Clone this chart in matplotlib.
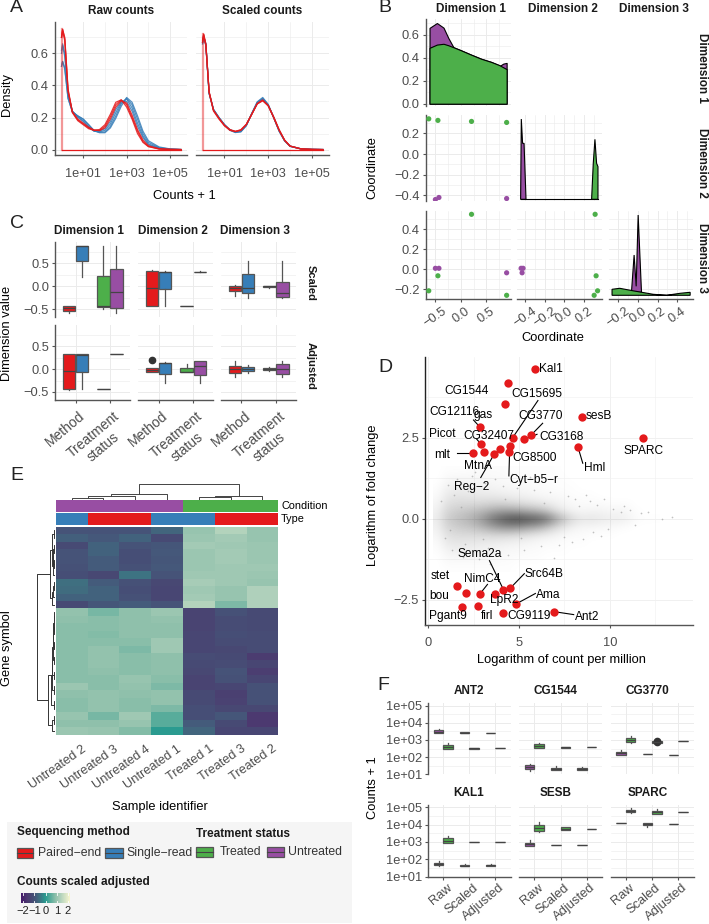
import numpy as np
import matplotlib
matplotlib.use('Agg')
import matplotlib.pyplot as plt
from matplotlib.colors import LinearSegmentedColormap
from matplotlib.patches import Rectangle
from matplotlib.transforms import ScaledTranslation

plt.rcParams['font.family'] = ['Liberation Sans', 'DejaVu Sans']
plt.rcParams['axes.unicode_minus'] = True

W, H = 709, 924
RED, BLUE, GREEN, PURPLE = '#E41A1C', '#377EB8', '#4DAF4A', '#984EA3'
GRID = '#ebebeb'
TXT = '#4d4d4d'
AXC = '#555555'

# panel A, density of log10(counts + 1)
a_x = [0, .05, .15, .3, .5, .75, 1, 1.25, 1.5, 1.75, 2, 2.25, 2.5, 2.75, 3, 3.25, 3.5, 3.75, 4, 4.5, 5, 5.5]
raw_blue = [
    [.62, .66, .60, .36, .24, .20, .175, .14, .115, .115, .13, .175, .25, .30, .30, .24, .145, .075, .03, .007, .001, 0],
    [.60, .65, .58, .34, .24, .205, .18, .145, .115, .11, .12, .16, .23, .295, .315, .26, .165, .085, .035, .009, .002, 0],
    [.52, .55, .50, .32, .235, .21, .19, .155, .118, .108, .11, .145, .21, .285, .32, .28, .19, .10, .045, .012, .003, 0],
    [.52, .55, .51, .32, .235, .21, .19, .155, .118, .105, .105, .135, .195, .27, .325, .295, .21, .115, .055, .016, .004, 0],
]
raw_red = [
    [.70, .75, .70, .38, .23, .18, .155, .13, .12, .125, .155, .22, .295, .31, .265, .19, .10, .045, .018, .003, .0005, 0],
    [.70, .75, .69, .37, .235, .185, .16, .135, .12, .12, .145, .205, .28, .31, .28, .20, .115, .05, .02, .004, .001, 0],
    [.70, .74, .68, .36, .235, .19, .165, .14, .122, .118, .135, .19, .265, .305, .29, .215, .125, .06, .024, .005, .001, 0],
]
scaled_blue = [
    [.66, .70, .65, .35, .25, .20, .155, .122, .108, .112, .15, .225, .295, .32, .28, .20, .115, .055, .02, .004, .001, 0],
    [.67, .71, .66, .35, .25, .20, .156, .124, .11, .115, .152, .222, .29, .315, .278, .20, .118, .056, .021, .004, .001, 0],
    [.66, .70, .66, .355, .25, .198, .154, .12, .106, .11, .148, .226, .298, .325, .282, .20, .114, .054, .02, .004, .001, 0],
    [.67, .71, .65, .35, .248, .198, .155, .123, .11, .116, .154, .224, .292, .316, .276, .202, .12, .058, .022, .005, .001, 0],
]
scaled_red = [
    [.68, .72, .66, .36, .245, .195, .15, .122, .112, .12, .155, .22, .285, .305, .275, .205, .125, .06, .022, .004, .001, 0],
    [.67, .71, .65, .36, .245, .195, .152, .125, .114, .122, .156, .22, .285, .305, .272, .20, .12, .058, .022, .004, .001, 0],
    [.67, .72, .655, .355, .24, .19, .148, .12, .113, .124, .158, .222, .288, .31, .275, .20, .12, .056, .021, .004, .001, 0],
]

# panel B, sample coordinates
dim1 = [-.63, -.45, .21, .90, -.50, -.43, .90]
dim2 = [.34, .325, .315, .305, -.44, -.42, -.43]
dim3 = [-.215, -.065, .55, -.26, .01, .01, -.035]
dim_colors = [GREEN, GREEN, GREEN, GREEN, PURPLE, PURPLE, PURPLE]
d1_px = [-.615, -.47, -.34, -.245, -.145, 0, .2, .4, .6, .77, .835, .90]
d1_py = [.658, .70, .66, .57, .49, .464, .426, .39, .362, .33, .348, .354]
d1_gx = [-.615, -.47, -.34, -.245, -.145, 0, .2, .4, .6, .75, .90]
d1_gy = [.485, .513, .52, .507, .49, .464, .426, .39, .362, .336, .30]
d2_px = [-.445, -.438, -.425, -.41, -.39]
d2_py = [-.438, .338, .103, .103, -.438]
d2_gx = [.279, .296, .313, .33, .344, .344]
d2_gy = [-.438, -.09, .142, -.09, -.122, -.438]
d3_px = [-.065, -.038, -.017, .003, .037]
d3_py = [-.23, .143, -.17, .543, -.23]
d3_gx = [-.262, -.262, -.184, -.048, .156, .292, .429, .531, .531]
d3_gy = [-.26, -.20, -.19, -.215, -.25, -.26, -.24, -.23, -.26]

# panel C, (whisker low, q1, median, q3, whisker high, outliers)
c_cats = ['Method', 'Treatment\nstatus']
c_scaled_1 = [(-.59, -.53, -.48, -.43, -.43), (.21, .54, .88, .88, .88), (-.50, -.456, -.43, .225, .88), (-.59, -.478, -.115, .377, .88)]
c_scaled_2 = [(-.43, -.43, -.043, .333, .35), (-.43, -.065, .31, .32, .33), (-.43, -.43, -.43, -.43, -.43), (.32, .32, .32, .32, .34)]
c_scaled_3 = [(-.21, -.10, -.04, .015, .02), (-.26, -.15, -.03, .26, .55), (-.03, -.01, 0, .01, .01), (-.26, -.225, -.14, .09, .55)]
c_adj_1 = [(-.46, -.44, -.05, .33, .33), (-.44, -.065, .31, .32, .32), (-.44, -.44, -.44, -.44, -.44), (.33, .33, .33, .33, .33)]
c_adj_2 = [(-.06, -.06, -.03, .015, .015, [.19]), (-.31, -.10, .12, .14, .155), (-.065, -.065, -.06, .03, .11), (-.31, -.12, .07, .17, .18)]
c_adj_3 = [(-.18, -.095, -.01, .065, .18), (-.09, -.05, 0, .05, .08), (-.05, -.03, 0, .02, .04), (-.18, -.115, -.01, .10, .17)]

# panel D, highlighted genes
d_genes = ['Kal1', 'CG1544', 'CG15695', 'CG12116', 'gas', 'CG3770', 'sesB', 'Picot', 'CG32407', 'CG3168', 'SPARC', 'mlt',
           'CG8500', 'MtnA', 'Hml', 'Cyt−b5−r', 'Reg−2', 'Sema2a', 'Src64B', 'stet', 'NimC4', 'Ama', 'bou', 'LpR2',
           'Pgant9', 'firl', 'CG9119', 'Ant2']
d_label_x = [6.78, 2.12, 6.0, 1.44, 3.04, 6.17, 9.41, .79, 3.33, 7.33, 11.84, .77, 5.84, 2.76, 9.15, 5.82, 2.41, 2.82,
             6.39, .64, 3.0, 6.63, .61, 4.16, 1.07, 3.26, 5.54, 8.75]
d_label_y = [4.61, 3.94, 3.83, 3.29, 3.19, 3.17, 3.17, 2.62, 2.55, 2.52, 2.09, 1.96, 1.86, 1.61, 1.56, 1.18, .98, -1.09,
             -1.71, -1.75, -1.84, -2.36, -2.39, -2.51, -3.0, -3.0, -2.99, -3.01]
d_cpm = [5.89, 4.40, 4.20, 8.45, 2.85, 11.82, 4.64, 5.67, 5.30, 2.91, 4.49, 3.94, 3.09, 4.42, 3.63, 2.45, 8.25,
         1.58, 2.10, 2.85, 3.65, 4.14, 4.51, 2.73, 1.88, 4.81, 4.13, 6.94]
d_fc = [4.61, 4.18, 3.53, 3.12, 2.82, 2.48, 2.49, 2.58, 2.45, 2.29, 2.25, 2.16, 2.06, 2.07, 1.99, 2.01, 2.20,
        -2.08, -2.28, -2.31, -2.32, -2.18, -2.14, -2.67, -2.72, -2.63, -2.90, -2.86]
# repel segments: label end x, y, then gene end x, y
seg_x0 = [6.04, 2.49, 6.30, 5.99, 2.67, 1.60, 2.89, 8.51, 4.44, 3.37, 5.29, 3.26, 5.90, 8.01]
seg_y0 = [3.64, 3.04, 2.94, 2.60, 2.45, 2.01, 1.27, 1.71, 1.32, -1.29, -1.69, -2.02, -2.30, -2.95]
seg_x1 = [4.64, 2.85, 5.67, 5.30, 2.91, 2.45, 3.63, 8.25, 4.49, 4.14, 4.51, 2.85, 4.81, 6.94]
seg_y1 = [2.49, 2.82, 2.58, 2.45, 2.29, 2.01, 1.99, 2.20, 2.25, -2.18, -2.14, -2.31, -2.63, -2.86]
# background genes as darkness per cell, the cloud is too dense to read one by one
cloud_y_top, cloud_y_bottom = 1.625, -1.625
cloud_x_left, cloud_x_right = .25, 12.75
cloud_dark = [
    [0, .01, .01, .01, .02, .02, .02, .02, .01, .01, .01, .01, .01, .01, 0, 0, 0, 0, 0, 0, 0, 0, 0, 0, 0],
    [0, .03, .04, .04, .04, .04, .03, .03, .02, .02, .02, .01, .01, .01, .01, 0, 0, 0, 0, 0, 0, 0, 0, 0, 0],
    [.01, .06, .07, .07, .06, .06, .05, .04, .04, .03, .03, .02, .02, .01, .01, .01, 0, 0, 0, 0, 0, 0, 0, 0, 0],
    [.02, .09, .11, .11, .10, .09, .09, .08, .07, .06, .05, .04, .03, .03, .02, .01, .01, .01, 0, 0, 0, 0, 0, 0, 0],
    [.04, .13, .16, .16, .16, .17, .18, .18, .16, .14, .12, .10, .08, .06, .04, .03, .02, .02, .02, .01, .01, .01, 0, 0, 0],
    [.06, .18, .22, .25, .28, .32, .38, .42, .42, .40, .36, .32, .25, .15, .08, .05, .04, .05, .05, .04, .05, .03, .01, 0, 0],
    [.08, .22, .28, .32, .38, .48, .62, .72, .80, .82, .78, .74, .65, .45, .28, .16, .11, .12, .10, .08, .08, .06, .02, .01, .01],
    [.06, .18, .22, .25, .28, .34, .42, .48, .50, .48, .42, .38, .28, .18, .10, .06, .04, .04, .03, .03, .02, .01, 0, 0, 0],
    [.04, .13, .16, .16, .16, .16, .17, .17, .16, .14, .12, .09, .07, .05, .03, .02, .02, .01, .01, .01, 0, 0, 0, 0, 0],
    [.02, .09, .11, .10, .10, .09, .08, .07, .06, .05, .04, .03, .02, .02, .01, .01, .01, 0, 0, 0, 0, 0, 0, 0, 0],
    [.01, .05, .07, .07, .06, .05, .05, .04, .03, .03, .02, .02, .01, .01, .01, 0, 0, 0, 0, 0, 0, 0, 0, 0, 0],
    [0, .03, .03, .03, .03, .03, .03, .02, .02, .01, .01, .01, 0, 0, 0, 0, 0, 0, 0, 0, 0, 0, 0, 0, 0],
    [0, .01, .01, .01, .01, .01, .01, .01, .01, 0, 0, 0, 0, 0, 0, 0, 0, 0, 0, 0, 0, 0, 0, 0, 0],
]
stray_x = [.7, 1.1, 1.3, 1.6, 1.9, 2.2, 2.4, 2.8, 3.1, 3.3, 3.7, 4.1, 4.4, 4.9, 5.3, 5.8, 6.2, 6.7, 7.2, 7.7, 8.1, 8.5,
           8.9, 9.3, 9.7, 10.2, 10.6, 11.1, 11.4, 12.1, 12.9, 13.4, .9, 1.4, 2.0, 2.6, 3.4, 4.6, 5.6, 6.9, 7.5, 8.3,
           9.1, 9.9, 10.8, 1.2, 1.8, 3.0, 4.2, 5.1, 6.4, 7.9, 8.7, 9.5, 11.7]
stray_y = [.55, 1.05, -.95, 1.22, -1.18, .85, 1.32, -1.25, 1.1, -.9, 1.22, 1.0, -1.1, .95, -.95, .88, -.85, .82, -.8,
           .7, .62, -.62, .55, .42, .62, .3, .22, .28, -.2, .2, 0, .05, -.6, .72, -.78, 1.45, -1.4, 1.38, 1.28, -1.2,
           -.55, .38, -.4, -.3, .4, -.35, .35, -.62, .6, -.58, .5, -.72, .72, -.52, .18]

# panel E, heatmap rows from top to bottom
samples = ['Untreated 2', 'Untreated 3', 'Untreated 4', 'Untreated 1', 'Treated 1', 'Treated 3', 'Treated 2']
condition = ['Untreated', 'Untreated', 'Untreated', 'Untreated', 'Treated', 'Treated', 'Treated']
seq_type = ['Single', 'Paired', 'Paired', 'Single', 'Single', 'Paired', 'Paired']
heat_values = [
    [-1.0, -1.0, -1.0, -.7, 1.0, 1.35, 1.0],
    [-.8, -.9, -.75, -1.2, 1.05, 1.15, 1.0],
    [-1.2, -.75, -1.0, -.95, 1.15, 1.1, 1.05],
    [-1.0, -.75, -1.1, -.9, 1.05, 1.15, 1.05],
    [-1.0, -.85, -1.1, -.95, 1.05, 1.15, 1.05],
    [-1.05, -.85, -1.05, -.9, 1.05, 1.1, 1.1],
    [-1.1, -1.25, -.5, -1.0, 1.1, 1.1, 1.05],
    [-.55, -.85, -1.05, -1.25, 1.2, 1.1, 1.0],
    [-.6, -.75, -1.1, -1.3, 1.1, 1.0, 1.3],
    [-.75, -.75, -1.05, -1.3, 1.15, 1.0, 1.3],
    [-1.2, -.95, -.85, -1.0, 1.35, .75, 1.3],
    [.95, .7, .9, 1.05, -1.35, -1.05, -1.2],
    [.9, .85, .9, .95, -1.35, -1.15, -1.2],
    [.85, .85, .9, .9, -1.35, -1.15, -1.2],
    [.85, .8, .9, .9, -1.3, -1.1, -1.15],
    [.85, .85, .85, 1.1, -1.3, -1.15, -1.15],
    [.85, .95, .75, 1.1, -1.3, -1.25, -1.15],
    [.85, .95, .85, .9, -1.15, -1.2, -1.55],
    [.85, .95, .85, .9, -1.2, -1.15, -1.3],
    [.85, .9, .85, .9, -1.25, -1.0, -1.5],
    [.85, .85, 1.0, .85, -1.35, -1.05, -1.3],
    [1.05, .85, .95, .75, -1.35, -1.3, -1.05],
    [.9, .95, .9, .95, -1.2, -1.45, -1.05],
    [.85, .95, .85, .95, -1.2, -1.4, -1.05],
    [.85, .95, .85, .75, -1.1, -1.25, -1.25],
    [1.0, .7, 1.1, .45, -1.1, -.95, -1.6],
    [.9, .9, 1.0, .45, -.85, -1.2, -1.6],
    [1.05, 1.0, .8, 0, -.7, -1.3, -1.3],
]
# dendrograms: (pos a, pos b, height a, height b, join height)
col_tree = [(.5, 1.5, 0, 0, 5), (1, 2.5, 5, 0, 11), (1.75, 3.5, 11, 0, 15), (4.5, 5.5, 0, 0, 6), (5, 6.5, 6, 0, 9),
            (2.625, 5.75, 15, 9, 45)]
row_tree = [(.5, 1.5, 0, 0, 1.5), (2.5, 3.5, 0, 0, 1), (4.5, 5.5, 0, 0, 1), (3, 5, 1, 1, 2), (4, 6.5, 2, 0, 2.5),
            (1, 5.25, 1.5, 2.5, 3.5), (7.5, 8.5, 0, 0, 1.5), (8, 9.5, 1.5, 0, 2), (8.75, 10.5, 2, 0, 3),
            (3.1, 9.6, 3.5, 3, 5), (11.5, 12.5, 0, 0, 1), (13.5, 14.5, 0, 0, 1), (12, 14, 1, 1, 1.5),
            (15.5, 16.5, 0, 0, 1), (13, 16, 1.5, 1, 2), (17.5, 18.5, 0, 0, 1), (14.5, 18, 2, 1, 2.5),
            (19.5, 20.5, 0, 0, 1), (16.2, 20, 2.5, 1, 3), (21.5, 22.5, 0, 0, 1), (18.1, 22, 3, 1, 3.5),
            (23.5, 24.5, 0, 0, 1), (20, 24, 3.5, 1, 4), (25.5, 26.5, 0, 0, 1.5), (26, 27.5, 1.5, 0, 3),
            (20, 26.7, 4, 3, 7), (6.35, 23.3, 5, 7, 18.4)]

# panel F, log10(counts + 1): (whisker low, q1, median, q3, whisker high, outliers)
f_cats = ['Raw', 'Scaled', 'Adjusted']
f_genes = ['ANT2', 'CG1544', 'CG3770', 'KAL1', 'SESB', 'SPARC']
f_ant2 = [(3.38, 3.38, 3.47, 3.55, 3.63), (2.45, 2.45, 2.57, 2.68, 2.82), (3.40, 3.40, 3.42, 3.44, 3.46), (2.50, 2.50, 2.52, 2.53, 2.53),
          (3.41, 3.41, 3.41, 3.41, 3.41), (2.52, 2.52, 2.52, 2.52, 2.52)]
f_cg1544 = [(1.2, 1.29, 1.41, 1.52, 1.58), (2.51, 2.51, 2.62, 2.74, 2.82), (1.23, 1.23, 1.31, 1.39, 1.46), (2.51, 2.51, 2.56, 2.60, 2.60),
            (1.23, 1.23, 1.31, 1.39, 1.44), (2.58, 2.58, 2.58, 2.58, 2.58)]
f_cg3770 = [(2.12, 2.12, 2.21, 2.29, 2.41), (2.8, 2.85, 3.0, 3.1, 3.22), (2.16, 2.16, 2.16, 2.17, 2.17), (2.78, 2.82, 2.9, 2.96, 3.0, [2.85, 2.95]),
            (2.14, 2.14, 2.14, 2.14, 2.14), (2.91, 2.91, 2.91, 2.91, 2.91)]
f_kal1 = [(1.6, 1.65, 1.72, 1.8, 1.9), (2.92, 2.92, 3.07, 3.21, 3.34), (1.59, 1.59, 1.64, 1.70, 1.72), (3.02, 3.02, 3.02, 3.02, 3.02),
          (1.61, 1.61, 1.65, 1.69, 1.72), (3.0, 3.0, 3.0, 3.0, 3.0)]
f_sesb = [(2.79, 2.79, 2.87, 2.96, 3.11), (3.55, 3.65, 3.8, 3.97, 4.14), (2.83, 2.83, 2.83, 2.83, 2.83), (3.69, 3.69, 3.77, 3.84, 3.84),
          (2.83, 2.83, 2.83, 2.83, 2.83), (3.74, 3.74, 3.74, 3.74, 3.74)]
f_sparc = [(4.1, 4.1, 4.1, 4.12, 4.12), (4.68, 4.71, 4.78, 4.85, 4.94), (3.88, 3.95, 4.03, 4.1, 4.1), (4.6, 4.6, 4.73, 4.81, 4.89),
           (4.01, 4.01, 4.01, 4.01, 4.01), (4.73, 4.73, 4.73, 4.73, 4.73)]

heat_colors = [(-2.15, '#451a6b'), (-1.6, '#4c3a70'), (-1.2, '#474a74'), (-.9, '#45587a'), (-.55, '#3f6f80'), (0, '#2a9b90'),
               (.45, '#58ac9b'), (.9, '#8fc0ab'), (1.3, '#aed0bb'), (2.15, '#f6f5cf')]
heat_cmap = LinearSegmentedColormap.from_list('heat', [((v + 2.15) / 4.3, c) for v, c in heat_colors])


fig = plt.figure(figsize=(W / 100, H / 100), dpi=100)


def panel(l, t, r, b):
    return fig.add_axes([l / W, 1 - b / H, (r - l) / W, (b - t) / H])


def style(ax, left=False, bottom=False):
    ax.set_axisbelow(True)
    for s in ax.spines.values():
        s.set_visible(False)
    ax.spines['left'].set_visible(left)
    ax.spines['bottom'].set_visible(bottom)
    ax.spines['left'].set_color(AXC)
    ax.spines['bottom'].set_color(AXC)
    ax.spines['left'].set_linewidth(1.0)
    ax.spines['bottom'].set_linewidth(1.0)
    ax.grid(True, which='major', color=GRID, lw=.7)
    ax.grid(True, which='minor', color=GRID, lw=.4)
    ax.tick_params(which='minor', length=0)
    ax.tick_params(which='major', length=2.5, width=.8, color=AXC, labelcolor=TXT, labelsize=9.3, pad=2,
                   left=left, labelleft=left, bottom=bottom, labelbottom=bottom)


def nudge(ax, dx, dy=0):
    # shift the x tick labels by pixels
    off = ScaledTranslation(dx / 100, -dy / 100, fig.dpi_scale_trans)
    for t in ax.get_xticklabels():
        t.set_transform(t.get_transform() + off)


# overlay in pixel coordinates, for the legend and the loose text
bg = fig.add_axes([0, 0, 1, 1], zorder=-1)
bg.set_xlim(0, W)
bg.set_ylim(H, 0)
bg.axis('off')
bg.add_patch(Rectangle((6.7, 821.7), 345, 101, color='#f5f5f5', lw=0))


def put(x, y, s, size=9.3, color='black', ha='center', **kw):
    bg.text(x, y, s, fontsize=size, color=color, ha=ha, va='center', **kw)


for x, y, s in [(16, 8, 'A'), (385, 8, 'B'), (17, 223, 'C'), (385, 367, 'D'), (17, 475, 'E'), (383, 685, 'F')]:
    put(x, y, s, size=14, color='#222222')

# ---- A
for l, r, title, blues, reds in [(55, 187, 'Raw counts', raw_blue, raw_red), (196, 329, 'Scaled counts', scaled_blue, scaled_red)]:
    ax = panel(l, 22, r, 155)
    px = 10 ** np.array(a_x)
    for curves, c in [(blues, BLUE), (reds, RED)]:
        for curve in curves:
            ax.plot(px, curve, color=c, lw=.9, alpha=.85, solid_joinstyle='round')
    ax.plot([1, 1], [0, reds[0][1]], color=RED, lw=1.6, alpha=.45)
    ax.plot([px[0], px[-1]], [0, 0], color=RED, lw=.9)
    ax.set_xscale('log')
    ax.set_xlim(10 ** -.3, 10 ** 5.78)
    ax.set_ylim(-.034, .796)
    ax.set_xticks([1e1, 1e3, 1e5], ['1e+01', '1e+03', '1e+05'])
    ax.set_xticks([1e2, 1e4], minor=True)
    ax.set_xticklabels([], minor=True)
    ax.set_yticks([0, .2, .4, .6], ['0.0', '0.2', '0.4', '0.6'])
    ax.set_yticks([.1, .3, .5, .7], minor=True)
    style(ax, left=(l == 55), bottom=True)
    ax.tick_params(axis='x', labelsize=9.2, pad=7)
put((55 + 187) / 2, 11, 'Raw counts', size=8.5, weight='bold', color='#1a1a1a')
put((196 + 329) / 2, 11, 'Scaled counts', size=8.5, weight='bold', color='#1a1a1a')
put(7, 94, 'Density', rotation=90)
put(184, 196, 'Counts + 1')

# ---- B
cols_b = [(425.7, 510.7), (516.7, 601.7), (609.3, 693)]
rows_b = [(19, 106), (115, 201), (211, 299)]
lims_b = [(-.69, .98), (-.485, .382), (-.29, .56)]
ylims_b = [(-.02, .735), (-.454, .377), (-.297, .583)]
ticks_b = [[-.5, 0, .5], [-.4, -.2, 0, .2], [-.2, 0, .2, .4]]
minor_b = [[-.25, .25, .75], [-.3, -.1, .1, .3], [-.1, .1, .3, .5]]
yticks_b = [[0, .2, .4, .6], [-.4, -.2, 0, .2], [-.2, 0, .2, .4]]
yminor_b = [[.1, .3, .5, .7], [-.3, -.1, .1, .3], [-.1, .1, .3, .5]]
dims = [dim1, dim2, dim3]


def lab(v):
    return f'{v:.1f}'.replace('-', '−')


for i, (t, b) in enumerate(rows_b):
    for j, (l, r) in enumerate(cols_b):
        ax = panel(l, t, r, b)
        ax.set_xlim(*lims_b[j])
        ax.set_ylim(*ylims_b[i])
        ax.set_xticks(ticks_b[j], [lab(v) for v in ticks_b[j]])
        ax.set_yticks(yticks_b[i], [lab(v) for v in yticks_b[i]])
        ax.set_xticks(minor_b[j], minor=True)
        ax.set_yticks(yminor_b[i], minor=True)
        style(ax, left=(j == 0), bottom=(i == 2))
        if i == 2:
            ax.set_xticklabels([lab(v) for v in ticks_b[j]], rotation=35, ha='center', rotation_mode='default')
        if j > i:
            ax.grid(False, which='both')
            ax.tick_params(bottom=False, left=False)
        if j < i:
            ax.scatter(dims[j], dims[i], c=dim_colors, s=14, lw=0, zorder=3)
        if i == 0 and j == 0:
            ax.fill_between(d1_px, d1_py, 0, fc=PURPLE, ec='black', lw=.8)
            ax.fill_between(d1_gx, d1_gy, 0, fc=GREEN, ec='black', lw=.8)
        if i == 1 and j == 1:
            ax.fill(d2_px, d2_py, fc=PURPLE, ec='black', lw=.8)
            ax.fill(d2_gx, d2_gy, fc=GREEN, ec='black', lw=.8)
            ax.plot([d2_px[0], d2_gx[-1]], [d2_py[0], d2_py[0]], color='black', lw=.8)
        if i == 2 and j == 2:
            ax.fill(d3_px, d3_py, fc=PURPLE, ec='black', lw=.8)
            ax.fill(d3_gx, d3_gy, fc=GREEN, ec='black', lw=.8)

for lines, x, y0 in [
    ([('Cor:', 'black'), ('3.16e−16', 'black'), ('Treated:', PURPLE), ('−0.0827', PURPLE)], 526.7, 32),
    ([('Cor:', 'black'), ('−3.15e−17', 'black'), ('Treated:', PURPLE), ('−1', PURPLE), ('Untreated:', GREEN), ('0.0546', GREEN)], 619.3, 32),
    ([('Cor:', 'black'), ('−1.31e−16', 'black'), ('Treated:', PURPLE), ('0.0821', PURPLE), ('Untreated:', GREEN), ('−0.256', GREEN)], 622, 127.5),
]:
    for k, (s, c) in enumerate(lines):
        put(x, y0 + k * 14.15, s, size=8.6, color=c, ha='left')
for x, s in [(470.7, 'Dimension 1'), (562.7, 'Dimension 2'), (654, 'Dimension 3')]:
    put(x, 8.5, s, size=8.5, weight='bold', color='#1a1a1a')
for y, s in [(68, 'Dimension 1'), (163, 'Dimension 2'), (258, 'Dimension 3')]:
    put(702, y, s, size=8.5, weight='bold', color='#1a1a1a', rotation=-90)
put(372.7, 168, 'Coordinate', rotation=90)
put(553, 338, 'Coordinate')


def boxes(ax, rows, pos, colors, width, log=False):
    conv = (lambda v: 10 ** np.asarray(v, float)) if log else (lambda v: v)
    for row, p, c in zip(rows, pos, colors):
        fl = row[5] if len(row) > 5 else []
        st = [dict(whislo=conv(row[0]), q1=conv(row[1]), med=conv(row[2]), q3=conv(row[3]), whishi=conv(row[4]), fliers=conv(fl))]
        ax.bxp(st, positions=[p], widths=width, patch_artist=True, showcaps=False, manage_ticks=False,
               boxprops=dict(facecolor=c, edgecolor='#555555', lw=.9),
               medianprops=dict(color='#444444', lw=.9),
               whiskerprops=dict(color='#555555', lw=.9),
               flierprops=dict(marker='o', mfc='#333333', mec='#333333', ms=4.5))


# ---- C
cols_c = [(55.3, 130), (138.3, 213.3), (221, 296)]
rows_c = [(242.3, 317.3), (325, 400)]
data_c = [[c_scaled_1, c_scaled_2, c_scaled_3], [c_adj_1, c_adj_2, c_adj_3]]
for i, (t, b) in enumerate(rows_c):
    for j, (l, r) in enumerate(cols_c):
        ax = panel(l, t, r, b)
        boxes(ax, data_c[i][j], [.81, 1.19, 1.81, 2.19], [RED, BLUE, GREEN, PURPLE], .36)
        ax.set_xlim(.405, 2.585)
        ax.set_ylim(-.674, .957)
        ax.set_xticks([1, 2], c_cats)
        ax.set_yticks([-.5, 0, .5], ['−0.5', '0.0', '0.5'])
        ax.set_yticks([-.25, .25, .75], minor=True)
        style(ax, left=(j == 0), bottom=(i == 1))
        if i == 1:
            ax.set_xticklabels(c_cats, rotation=40, ha='right', rotation_mode='anchor', multialignment='center', fontsize=10)
            nudge(ax, 3, 3)
for x, s in [(89, 'Dimension 1'), (172.7, 'Dimension 2'), (255, 'Dimension 3')]:
    put(x, 230.7, s, size=8.5, weight='bold', color='#1a1a1a')
put(310.7, 282.7, 'Scaled', size=8, weight='bold', color='#1a1a1a', rotation=-90)
put(310.7, 365.7, 'Adjusted', size=8, weight='bold', color='#1a1a1a', rotation=-90)
put(7, 333, 'Dimension value', rotation=90)

# ---- D
ax = panel(425.3, 357, 693.3, 625)
clear_black = LinearSegmentedColormap.from_list('cloud', [(0, 0, 0, 0), (0, 0, 0, 1)])
ax.imshow(np.array(cloud_dark), cmap=clear_black, vmin=0, vmax=1.15, interpolation='bicubic', aspect='auto', origin='upper',
          extent=(cloud_x_left, cloud_x_right, cloud_y_bottom, cloud_y_top), zorder=1)
ax.scatter(stray_x, stray_y, s=1.5, color='#999999', alpha=.6, lw=0, zorder=1)
ax.plot([seg_x0, seg_x1], [seg_y0, seg_y1], color='black', lw=.8, zorder=2)
ax.scatter(d_cpm, d_fc, s=36, color=RED, lw=0, zorder=3)
for gx, gy, s in zip(d_label_x, d_label_y, d_genes):
    ax.text(gx, gy, s, fontsize=8.6, ha='center', va='center', zorder=4)
ax.set_xlim(-.165, 14.6)
ax.set_ylim(-3.27, 4.98)
ax.set_xticks([0, 5, 10], ['0', '5', '10'])
ax.set_xticks([2.5, 7.5, 12.5], minor=True)
ax.set_yticks([-2.5, 0, 2.5], ['−2.5', '0.0', '2.5'])
ax.set_yticks([-1.25, 1.25, 3.75], minor=True)
style(ax, left=True, bottom=True)
ax.spines['left'].set_color('#222222')
ax.tick_params(axis='x', pad=6)
ax.grid(True, which='major', color='#f0f0f0', lw=.7)
ax.grid(True, which='minor', color='#f0f0f0', lw=.4)
put(372.7, 495, 'Logarithm of fold change', rotation=90)
put(561, 660, 'Logarithm of count per million')

# ---- E
cond_colors = {'Untreated': PURPLE, 'Treated': GREEN}
type_colors = {'Single': BLUE, 'Paired': RED}
for t, b, vals, cmap in [(500, 511.7, condition, cond_colors), (512.7, 525, seq_type, type_colors)]:
    ax = panel(55.7, t, 278.3, b)
    ax.bar(np.arange(7) + .5, 1, width=1, color=[cmap[v] for v in vals], lw=0)
    ax.set_xlim(0, 7)
    ax.set_ylim(0, 1)
    ax.axis('off')
put(281, 505.7, 'Condition', size=7.8, ha='left')
put(281, 519, 'Type', size=7.8, ha='left')

ax = panel(55.7, 526.7, 278.3, 734.7)
ax.pcolormesh(np.arange(8), np.arange(29), np.array(heat_values), cmap=heat_cmap, vmin=-2.15, vmax=2.15)
ax.set_xlim(0, 7)
ax.set_ylim(28, 0)
ax.set_xticks(np.arange(7) + .5, samples, rotation=35, ha='right', rotation_mode='anchor')
ax.set_yticks([])
ax.tick_params(axis='x', length=0, labelcolor=TXT, labelsize=9.2, pad=6)
nudge(ax, 10)
for s in ax.spines.values():
    s.set_visible(False)

ax = panel(55.7, 484, 278.3, 499.5)
for a, b, ha_, hb_, top in col_tree:
    ax.plot([a, a, b, b], [ha_, top, top, hb_], color='#444444', lw=.7)
ax.set_xlim(0, 7)
ax.set_ylim(0, 45)
ax.axis('off')

ax = panel(36, 526.7, 55.2, 734.7)
for a, b, ha_, hb_, top in row_tree:
    ax.plot([ha_, top, top, hb_], [a, a, b, b], color='#333333', lw=.7)
ax.set_xlim(19.2, 0)
ax.set_ylim(28, 0)
ax.axis('off')
put(7, 648, 'Gene symbol', rotation=90)
put(160, 807, 'Sample identifier')

# legend, sits on the background axes
put(16.7, 831.7, 'Sequencing method', size=8.5, weight='bold', ha='left', color='#1a1a1a')
put(196, 833.7, 'Treatment status', size=8.5, weight='bold', ha='left', color='#1a1a1a')
put(16.7, 881.7, 'Counts scaled adjusted', size=8.5, weight='bold', ha='left', color='#1a1a1a')
for x0, y0, w, c, s, tx in [(16.7, 847.7, 16.6, RED, 'Paired−end', 37.7), (105.3, 847.7, 17.4, BLUE, 'Single−read', 126.7),
                            (196, 846.7, 17.3, GREEN, 'Treated', 219.3), (267.3, 846.7, 17, PURPLE, 'Untreated', 288.3)]:
    bg.add_patch(Rectangle((x0, y0), w, 10.6, fc=c, ec='#555555', lw=.9))
    bg.plot([x0, x0 + w], [y0 + 5.3, y0 + 5.3], color='#444444', lw=.8)
    put(tx, y0 + 5.5, s, size=8.8, ha='left', color='#333333')

cb = panel(21, 892.7, 70, 902.7)
cb.imshow(np.linspace(-2.15, 2.15, 100)[None, :], aspect='auto', cmap=heat_cmap, vmin=-2.15, vmax=2.15, extent=(-2.15, 2.15, 0, 1))
for v in [-2, -1, 0, 1, 2]:
    cb.plot([v, v], [0, .2], color='white', lw=.6)
    cb.plot([v, v], [.8, 1], color='white', lw=.6)
cb.set_xlim(-2.15, 2.15)
cb.set_ylim(0, 1)
cb.axis('off')
for x, s in [(22.7, '−2'), (34.3, '−1'), (45.7, '0'), (57, '1'), (68, '2')]:
    put(x, 910.7, s, size=8, color='#222222')

# ---- F
cols_f = [(428.3, 511), (519.3, 602.3), (610.7, 694)]
rows_f = [(703.3, 774.3), (805, 876.7)]
data_f = [f_ant2, f_cg1544, f_cg3770, f_kal1, f_sesb, f_sparc]
f_pos = [.82, 1.18, 1.82, 2.18, 2.82, 3.18]
f_col = [PURPLE, GREEN] * 3
for k, (gene, rows) in enumerate(zip(f_genes, data_f)):
    i, j = k // 3, k % 3
    l, r = cols_f[j]
    t, b = rows_f[i]
    ax = panel(l, t, r, b)
    boxes(ax, rows, f_pos, f_col, .36, log=True)
    ax.set_yscale('log')
    ax.set_xlim(.42, 3.6)
    ax.set_ylim(10 ** 1.0, 10 ** 5.13)
    ax.set_xticks([1, 2, 3], f_cats)
    ax.set_yticks([1e1, 1e2, 1e3, 1e4, 1e5], ['1e+01', '1e+02', '1e+03', '1e+04', '1e+05'])
    ax.set_yticks(10 ** np.array([1.5, 2.5, 3.5, 4.5]), minor=True)
    ax.set_yticklabels([], minor=True)
    style(ax, left=(j == 0), bottom=(i == 1))
    if i == 1:
        ax.set_xticklabels(f_cats, rotation=40, ha='right', rotation_mode='anchor')
        nudge(ax, 3, -1)
    put((l + r) / 2 - (1 if j == 0 else 5), t - 12, gene, size=8.5, weight='bold', color='#1a1a1a')
put(372.7, 788, 'Counts + 1', rotation=90)

fig.savefig('out.png', dpi=100)
